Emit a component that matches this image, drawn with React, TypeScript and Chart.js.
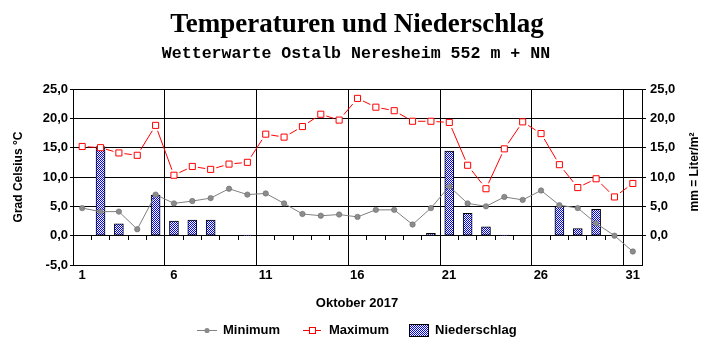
import React, { useEffect, useRef } from 'react';
import { Chart, registerables } from 'chart.js';

Chart.register(...registerables);

// ---- data ----
const days = [1, 2, 3, 4, 5, 6, 7, 8, 9, 10, 11, 12, 13, 14, 15, 16, 17, 18, 19, 20, 21, 22, 23, 24, 25, 26, 27, 28, 29, 30, 31];
const minimum = [4.7, 4.1, 4.1, 1.1, 7.0, 5.5, 5.9, 6.4, 8.0, 7.0, 7.2, 5.5, 3.7, 3.4, 3.6, 3.2, 4.4, 4.4, 1.9, 4.7, 8.4, 5.5, 5.0, 6.6, 6.1, 7.7, 5.2, 4.7, 2.1, 0.0, -2.7];
const maximum = [15.2, 15.0, 14.1, 13.7, 18.8, 10.3, 11.8, 11.3, 12.2, 12.5, 17.3, 16.8, 18.6, 20.7, 19.7, 23.4, 21.9, 21.3, 19.5, 19.5, 19.3, 12.0, 8.0, 14.8, 19.4, 17.4, 12.1, 8.2, 9.7, 6.6, 8.9];
const precipitation: (number | null)[] = [null, 15.2, 2.0, null, 6.9, 2.5, 2.65, 2.65, null, 0.1, null, null, null, null, null, null, null, null, null, 0.4, 14.4, 3.8, 1.5, 0.1, null, null, 5.0, 1.2, 4.5, null, null];
const xLabelDays = [1, 6, 11, 16, 21, 26, 31];
const tempTicks = [-5, 0, 5, 10, 15, 20, 25];
const rainTicks = [0, 5, 10, 15, 20, 25];

const TITLE = 'Temperaturen und Niederschlag';
const SUBTITLE = 'Wetterwarte Ostalb Neresheim 552 m + NN';
const X_TITLE = 'Oktober 2017';
const Y_TITLE = 'Grad Celsius °C';
const Y2_TITLE = 'mm = Liter/m²';
const LEGEND = ['Minimum', 'Maximum', 'Niederschlag'];

const SANS = "'Liberation Sans', Arial, sans-serif";
const fmt = (v: number) => v.toFixed(1).replace('.', ',');

function makePattern(): CanvasPattern | string {
  const c = document.createElement('canvas');
  c.width = 2;
  c.height = 2;
  const g = c.getContext('2d');
  if (!g) return '#6060ff';
  g.fillStyle = '#ffffff';
  g.fillRect(0, 0, 2, 2);
  g.fillStyle = '#0000ff';
  g.fillRect(0, 0, 1, 1);
  g.fillRect(1, 1, 1, 1);
  return g.createPattern(c, 'repeat') || '#6060ff';
}

export default function App() {
  const ref = useRef<HTMLCanvasElement | null>(null);

  useEffect(() => {
    const canvas = ref.current;
    if (!canvas) return;
    const pattern = makePattern();

    const gapPlugin = {
      id: 'gapPlugin',
      beforeDatasetDraw(chart: any, args: any) {
        const ds = chart.data.datasets[args.index];
        if (ds.label !== 'Maximum') return;
        const ctx = chart.ctx;
        ctx.save();
        ctx.beginPath();
        ctx.rect(0, 0, chart.width, chart.height);
        args.meta.data.forEach((p: any) => {
          ctx.rect(p.x - 5.5, p.y - 5.5, 11, 11);
        });
        ctx.clip('evenodd');
      },
      afterDatasetDraw(chart: any, args: any) {
        const ds = chart.data.datasets[args.index];
        if (ds.label !== 'Maximum') return;
        chart.ctx.restore();
        args.meta.data.forEach((p: any) => p.draw(chart.ctx, chart.chartArea));
      },
    };

    const decorPlugin = {
      id: 'decorPlugin',
      afterDraw(chart: any) {
        const ctx = chart.ctx as CanvasRenderingContext2D;
        ctx.save();
        ctx.fillStyle = '#000';
        ctx.textAlign = 'center';
        ctx.textBaseline = 'alphabetic';
        ctx.font = "bold 27px 'Liberation Serif', 'Times New Roman', serif";
        ctx.fillText(TITLE, 357, 32);
        ctx.font = "bold 16.6px 'Liberation Mono', 'Courier New', monospace";
        ctx.fillText(SUBTITLE, 356, 58);

        ctx.font = `bold 13px ${SANS}`;
        ctx.textBaseline = 'middle';
        ctx.fillText(X_TITLE, 357, 303);

        ctx.font = `bold 12px ${SANS}`;
        ctx.save();
        ctx.translate(19, 177);
        ctx.rotate(-Math.PI / 2);
        ctx.fillText(Y_TITLE, 0, 0);
        ctx.restore();
        ctx.save();
        ctx.translate(695, 172);
        ctx.rotate(-Math.PI / 2);
        ctx.fillText(Y2_TITLE, 0, 0);
        ctx.restore();

        // legend
        const ly = 330;
        ctx.font = `bold 13px ${SANS}`;
        ctx.textAlign = 'left';
        // Minimum
        ctx.strokeStyle = '#808080';
        ctx.lineWidth = 1;
        ctx.beginPath();
        ctx.moveTo(197, ly + 0.5);
        ctx.lineTo(217, ly + 0.5);
        ctx.stroke();
        ctx.fillStyle = '#8a8a8a';
        ctx.beginPath();
        ctx.arc(207, ly + 0.5, 2.6, 0, Math.PI * 2);
        ctx.fill();
        ctx.fillStyle = '#000';
        ctx.fillText(LEGEND[0], 223, ly);
        // Maximum
        ctx.strokeStyle = '#ff0000';
        ctx.beginPath();
        ctx.moveTo(303, ly + 0.5);
        ctx.lineTo(321, ly + 0.5);
        ctx.stroke();
        ctx.fillStyle = '#ffffff';
        ctx.fillRect(309, ly - 2.5, 6, 6);
        ctx.strokeRect(309.5, ly - 2.5, 6, 6);
        ctx.fillStyle = '#000';
        ctx.fillText(LEGEND[1], 329, ly);
        // Niederschlag
        ctx.fillStyle = pattern as any;
        ctx.fillRect(409, 324, 19, 12);
        ctx.strokeStyle = '#000';
        ctx.strokeRect(409.5, 324.5, 19, 12);
        ctx.fillStyle = '#000';
        ctx.fillText(LEGEND[2], 435, ly);
        ctx.restore();
      },
    };

    const chart = new Chart(canvas, {
      type: 'bar',
      data: {
        datasets: [
          {
            type: 'line',
            label: 'Maximum',
            data: days.map((d, i) => ({ x: d, y: maximum[i] })),
            borderColor: '#ff0000',
            borderWidth: 1,
            pointStyle: 'rect',
            pointRadius: 4.3,
            pointBorderWidth: 1,
            pointBackgroundColor: '#ffffff',
            pointBorderColor: '#ff0000',
            xAxisID: 'x',
            yAxisID: 'y',
            order: 1,
          } as any,
          {
            type: 'line',
            label: 'Minimum',
            data: days.map((d, i) => ({ x: d, y: minimum[i] })),
            borderColor: '#808080',
            borderWidth: 1,
            pointStyle: 'circle',
            pointRadius: 2.7,
            pointBorderWidth: 0.6,
            pointBackgroundColor: '#8c8c8c',
            pointBorderColor: '#6a6a6a',
            xAxisID: 'x',
            yAxisID: 'y',
            order: 2,
          } as any,
          {
            type: 'bar',
            label: 'Niederschlag',
            data: days.map((d, i) => ({ x: d, y: precipitation[i] })),
            backgroundColor: pattern as any,
            borderColor: '#000000',
            borderWidth: 1,
            borderSkipped: false,
            barThickness: 9,
            xAxisID: 'x',
            yAxisID: 'y2',
            order: 3,
          } as any,
        ],
      },
      options: {
        animation: false,
        responsive: false,
        devicePixelRatio: 1,
        events: [],
        layout: { padding: { top: 89, left: 0, right: 0, bottom: 0 } },
        plugins: { legend: { display: false }, tooltip: { enabled: false }, title: { display: false } },
        scales: {
          x: {
            type: 'linear',
            position: 'bottom',
            min: 0.5,
            max: 31.5,
            offset: false,
            afterBuildTicks: (s: any) => {
              s.ticks = xLabelDays.map((d) => ({ value: d - 0.5 }));
            },
            afterFit: (s: any) => {
              s.height = 87;
            },
            ticks: {
              autoSkip: false,
              maxRotation: 0,
              labelOffset: 9,
              padding: 3,
              color: '#000',
              font: { family: SANS, size: 13, weight: 'bold' },
              callback: (v: any) => String(Number(v) + 0.5),
            },
            grid: { color: '#000', lineWidth: 1, drawTicks: false, offset: false },
            border: { color: '#000', width: 1 },
          },
          x0: {
            type: 'linear',
            position: { y: 0 } as any,
            min: 0.5,
            max: 31.5,
            offset: false,
            afterBuildTicks: (s: any) => {
              s.ticks = days.slice(0, -1).map((d) => ({ value: d + 0.5 }));
            },
            ticks: { display: false, autoSkip: false },
            grid: { drawOnChartArea: false, drawTicks: true, tickLength: 4, color: '#000', offset: false },
            border: { display: false },
          },
          y: {
            type: 'linear',
            position: 'left',
            min: -5,
            max: 25,
            afterBuildTicks: (s: any) => {
              s.ticks = tempTicks.map((v) => ({ value: v }));
            },
            afterFit: (s: any) => {
              s.width = 73;
            },
            ticks: {
              padding: 2,
              color: '#000',
              font: { family: SANS, size: 13, weight: 'bold' },
              callback: (v: any) => fmt(Number(v)),
            },
            grid: { color: '#000', lineWidth: 1, tickLength: 3 },
            border: { color: '#000', width: 1 },
          },
          y2: {
            type: 'linear',
            position: 'right',
            min: -5,
            max: 25,
            afterBuildTicks: (s: any) => {
              s.ticks = rainTicks.map((v) => ({ value: v }));
            },
            afterFit: (s: any) => {
              s.width = 73;
            },
            ticks: {
              padding: 4,
              color: '#000',
              font: { family: SANS, size: 13, weight: 'bold' },
              callback: (v: any) => fmt(Number(v)),
            },
            grid: { drawOnChartArea: false, color: '#000', tickLength: 4 },
            border: { color: '#000', width: 1 },
          },
        },
      } as any,
      plugins: [gapPlugin, decorPlugin],
    });

    return () => chart.destroy();
  }, []);

  return (
    <div style={{ position: 'fixed', left: 0, top: 0, width: 715, height: 352, background: '#fff' }}>
      <canvas ref={ref} width={715} height={352} style={{ display: 'block', width: 715, height: 352 }} />
    </div>
  );
}
